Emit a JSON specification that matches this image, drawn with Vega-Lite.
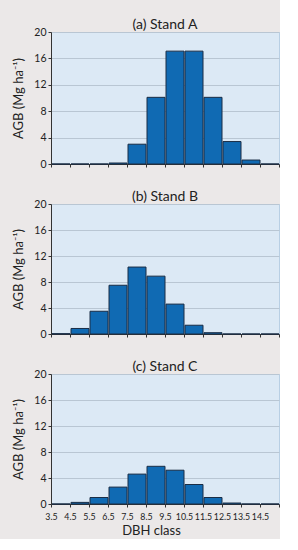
{
  "$schema": "https://vega.github.io/schema/vega-lite/v6.json",
  "padding": {"left": 12, "top": 17, "right": 0, "bottom": 0},
  "spacing": 19,
  "data": {"values": [
    {"stand": "A", "dbh": 3.5, "agb": 0},
    {"stand": "A", "dbh": 4.5, "agb": 0},
    {"stand": "A", "dbh": 5.5, "agb": 0},
    {"stand": "A", "dbh": 6.5, "agb": 0.15},
    {"stand": "A", "dbh": 7.5, "agb": 3.0},
    {"stand": "A", "dbh": 8.5, "agb": 10.1},
    {"stand": "A", "dbh": 9.5, "agb": 17.1},
    {"stand": "A", "dbh": 10.5, "agb": 17.1},
    {"stand": "A", "dbh": 11.5, "agb": 10.1},
    {"stand": "A", "dbh": 12.5, "agb": 3.4},
    {"stand": "A", "dbh": 13.5, "agb": 0.6},
    {"stand": "A", "dbh": 14.5, "agb": 0},
    {"stand": "B", "dbh": 3.5, "agb": 0.05},
    {"stand": "B", "dbh": 4.5, "agb": 0.85},
    {"stand": "B", "dbh": 5.5, "agb": 3.5},
    {"stand": "B", "dbh": 6.5, "agb": 7.5},
    {"stand": "B", "dbh": 7.5, "agb": 10.3},
    {"stand": "B", "dbh": 8.5, "agb": 8.9},
    {"stand": "B", "dbh": 9.5, "agb": 4.6},
    {"stand": "B", "dbh": 10.5, "agb": 1.35},
    {"stand": "B", "dbh": 11.5, "agb": 0.2},
    {"stand": "B", "dbh": 12.5, "agb": 0},
    {"stand": "B", "dbh": 13.5, "agb": 0},
    {"stand": "B", "dbh": 14.5, "agb": 0},
    {"stand": "C", "dbh": 3.5, "agb": 0},
    {"stand": "C", "dbh": 4.5, "agb": 0.25},
    {"stand": "C", "dbh": 5.5, "agb": 1.0},
    {"stand": "C", "dbh": 6.5, "agb": 2.6},
    {"stand": "C", "dbh": 7.5, "agb": 4.6},
    {"stand": "C", "dbh": 8.5, "agb": 5.8},
    {"stand": "C", "dbh": 9.5, "agb": 5.2},
    {"stand": "C", "dbh": 10.5, "agb": 3.0},
    {"stand": "C", "dbh": 11.5, "agb": 1.0},
    {"stand": "C", "dbh": 12.5, "agb": 0.15},
    {"stand": "C", "dbh": 13.5, "agb": 0},
    {"stand": "C", "dbh": 14.5, "agb": 0}
  ]},
  "vconcat": [
    {
      "title": "(a) Stand A",
      "width": 228, "height": 132,
      "transform": [
        {"filter": "datum.stand === 'A'"},
        {"bin": {"extent": [3, 15], "step": 1}, "field": "dbh", "as": ["b0", "b1"]}
      ],
      "mark": {"type": "bar", "fill": "#106ab3", "stroke": "#1a2d45", "strokeWidth": 1},
      "encoding": {
        "x": {"field": "b0", "type": "quantitative", "bin": {"binned": true, "step": 1},
              "scale": {"domain": [3, 15], "nice": false, "zero": false},
              "axis": {"values": [3,4,5,6,7,8,9,10,11,12,13,14,15], "labels": false, "title": null, "grid": false, "tickSize": 3}},
        "x2": {"field": "b1"},
        "y": {"field": "agb", "type": "quantitative", "scale": {"domain": [0, 20], "nice": false},
              "axis": {"values": [0,4,8,12,16,20], "title": "AGB (Mg ha⁻¹)", "tickSize": 3}}
      }
    },
    {
      "title": "(b) Stand B",
      "width": 228, "height": 130,
      "transform": [
        {"filter": "datum.stand === 'B'"},
        {"bin": {"extent": [3, 15], "step": 1}, "field": "dbh", "as": ["b0", "b1"]}
      ],
      "mark": {"type": "bar", "fill": "#106ab3", "stroke": "#1a2d45", "strokeWidth": 1},
      "encoding": {
        "x": {"field": "b0", "type": "quantitative", "bin": {"binned": true, "step": 1},
              "scale": {"domain": [3, 15], "nice": false, "zero": false},
              "axis": {"values": [3,4,5,6,7,8,9,10,11,12,13,14,15], "labels": false, "title": null, "grid": false, "tickSize": 3}},
        "x2": {"field": "b1"},
        "y": {"field": "agb", "type": "quantitative", "scale": {"domain": [0, 20], "nice": false},
              "axis": {"values": [0,4,8,12,16,20], "title": "AGB (Mg ha⁻¹)", "tickSize": 3}}
      }
    },
    {
      "title": "(c) Stand C",
      "width": 228, "height": 130,
      "transform": [
        {"filter": "datum.stand === 'C'"},
        {"bin": {"extent": [3, 15], "step": 1}, "field": "dbh", "as": ["b0", "b1"]}
      ],
      "mark": {"type": "bar", "fill": "#106ab3", "stroke": "#1a2d45", "strokeWidth": 1},
      "encoding": {
        "x": {"field": "b0", "type": "quantitative", "bin": {"binned": true, "step": 1},
              "scale": {"domain": [3, 15], "nice": false, "zero": false},
              "axis": {"values": [3,4,5,6,7,8,9,10,11,12,13,14,15], "title": "DBH class", "grid": false, "tickSize": 3,
                       "labelExpr": "datum.value < 15 ? format(datum.value + 0.5, '.1f') : ''",
                       "labelDx": 9.5, "labelFontSize": 8.8, "labelOverlap": false, "labelFlush": false, "labelPadding": 5,
                       "titleFontSize": 13, "titlePadding": 4, "titleX": 100}},
        "x2": {"field": "b1"},
        "y": {"field": "agb", "type": "quantitative", "scale": {"domain": [0, 20], "nice": false},
              "axis": {"values": [0,4,8,12,16,20], "title": "AGB (Mg ha⁻¹)", "tickSize": 3}}
      }
    }
  ],
  "config": {
    "background": "#ebe8e8",
    "font": "Lato",
    "view": {"fill": "#dce9f5", "stroke": "#b8cfe4", "strokeWidth": 1},
    "axis": {"domainColor": "#333333", "tickColor": "#333333", "labelColor": "#222222", "titleColor": "#222222",
             "gridColor": "#b9c6d3", "labelFontSize": 10.5, "titleFontSize": 13, "titleFontWeight": "normal",
             "labelPadding": 2, "titlePadding": 8},
    "title": {"fontSize": 14, "fontWeight": "normal", "color": "#222222", "offset": -5}
  }
}
